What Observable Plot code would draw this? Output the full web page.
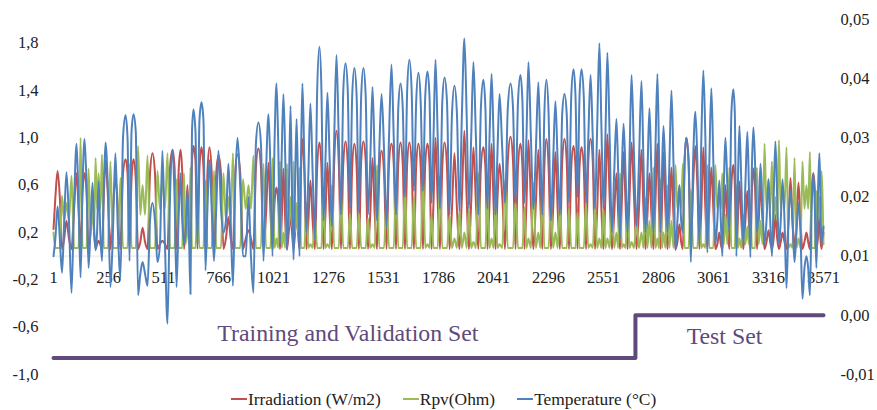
<!DOCTYPE html>
<html><head><meta charset="utf-8">
<script src="https://cdn.jsdelivr.net/npm/d3@7"></script>
<script src="https://cdn.jsdelivr.net/npm/@observablehq/plot@0.6"></script>
<style>
body{margin:0;background:#fff;font-family:"Liberation Serif",serif;color:#222}
#legend{height:30px;display:flex;align-items:center;padding:8px 0 0 231px;font-size:17.4px;box-sizing:border-box}
#legend i{display:inline-block;width:16px;height:2px;margin-right:1px}
#legend span{margin-right:22px;display:inline-flex;align-items:center}
</style></head><body>
<div id="chart"></div>
<div id="legend"></div>
<script>
const xTicks=[1,256,511,766,1021,1276,1531,1786,2041,2296,2551,2806,3061,3316,3571];
const leftTicks=[-1,-0.6,-0.2,0.2,0.6,1,1.4,1.8];
const rightTicks=[-0.01,0,0.01,0.02,0.03,0.04,0.05];
const daySample=[20,61,108,145,182,210,242,288,335,372,
414,460,506,553,590,622,650,687,724,766,
812,854,905,951,998,1035,1067,1100,1128,1155,
1192,1234,1271,1313,1355,1396,1438,1480,1522,1568,
1610,1651,1693,1735,1772,1814,1860,1906,1948,1994,
2032,2069,2120,2166,2203,2249,2286,2328,2370,2412,
2449,2491,2532,2569,2611,2644,2681,2727,2764,2801,
2829,2866,2903,2935,2977,3014,3051,3088,3116,3153,
3181,3218,3246,3279,3316,3348,3381,3418,3455,3492,
3524,3552];
const tempPeak=[.42,.71,.95,.99,.62,.63,.96,.87,1.19,1.2,
-.05,.45,.89,.89,.7,.55,1.24,1.3,.81,.89,
.78,1.0,.5,1.13,1.2,1.46,1.37,1.27,1.16,1.46,
1.29,1.77,1.38,1.7,1.63,1.59,1.59,1.43,1.37,1.62,
1.46,1.66,1.55,1.56,1.66,1.51,1.44,1.84,1.64,1.49,
1.54,1.37,1.46,1.53,1.64,1.47,1.49,1.31,1.37,1.58,
1.58,1.53,1.8,1.72,1.16,1.12,1.53,1.48,1.25,1.54,
1.1,1.4,.6,1.0,1.22,1.57,1.42,.64,1.0,1.41,
1.1,1.05,1.09,.78,.65,.97,.65,.55,.45,0,
.7,.87];
const tempKnee=[.15,.3,.45,.6,.25,.2,.55,.2,1.0,1.05,
-.15,.3,.1,.5,.3,.2,1.05,1.15,.4,.4,
.3,.6,0,.95,.7,.95,.85,.5,.6,.8,
.7,1.4,.8,1.0,1.4,1.35,1.35,.8,.9,1.0,
1.25,1.4,1.3,1.35,1.0,1.3,1.2,1.2,1.0,1.25,
1.0,.9,1.25,1.3,1.0,.9,1.2,.8,1.2,1.35,
1.35,1.0,1.1,1.0,.7,.7,.85,.8,.7,.9,
.7,.8,.3,.8,.8,1.0,.8,.3,.6,1.2,
.6,.6,.75,.4,.3,.5,.3,.3,.2,-.1,
.4,.5];
const tempLow=[-.14,-.31,-.18,-.1,.05,-.04,-.26,-.18,-.04,-.33,
-.25,-.05,-.57,-.26,.1,-.32,.1,-.12,-.04,.2,
-.25,0,-.31,-.04,0,.1,.05,-.03,0,.2,
.15,.3,.25,.35,.4,.38,.35,.3,.25,.35,
.5,.55,.55,.45,.4,.35,.38,.4,.35,.4,
.35,.45,.45,.45,.4,.35,.3,.35,.45,.5,
.45,.4,.4,.2,.15,.2,.25,.2,.2,.2,
.2,.05,.2,-.05,.1,.03,.1,0,.2,0,
.1,-.01,.2,.1,0,.1,-.27,-.05,-.36,-.33,
-.1,.1];
const irrPeak=[.72,.3,.7,.7,.45,.13,.81,.66,.82,.82,
.24,.87,.13,.9,.9,.6,.93,.92,.92,.85,
.33,.86,.22,.91,.79,.58,.74,.35,.4,.99,
.64,.96,.79,1.06,.97,.95,.97,.83,.89,.95,
.96,.96,.95,.95,1.0,.96,.87,1.06,.92,.92,
.95,.78,1.01,.95,.98,.9,.99,.88,.99,.93,
.92,.99,.9,1.03,.7,.88,.96,.9,.7,.95,
.88,.75,.27,1.0,.93,.92,.75,.2,.6,.77,
.63,.55,.74,.6,.22,.35,.2,.66,.62,.2,
.7,.35];
const irrKnee=[.5,.15,.4,.55,.2,.1,.5,.4,.7,.65,
.12,.7,.1,.75,.7,.25,.8,.75,.7,.7,
.15,.7,.15,.75,.35,.45,.3,.2,.2,.7,
.3,.75,.35,.8,.78,.75,.8,.35,.7,.78,
.78,.78,.76,.78,.45,.75,.4,.5,.45,.75,
.45,.5,.8,.75,.45,.45,.75,.4,.8,.75,
.75,.8,.4,.5,.35,.45,.5,.4,.35,.45,
.4,.35,.12,.8,.6,.4,.4,.1,.3,.6,
.3,.3,.55,.3,.12,.15,.12,.3,.3,.12,
.55,.15];
const irrNight=[0.06];
const rpvPeak=[.51,.68,1.0,.74,.83,.86,.8,.66,.78,.93,
.85,.72,.87,.65,.7,.75,.5,.64,.72,.7,
.87,.65,.85,.78,.83,.8,.78,.8,.75,.45,
.35,.58,.6,.55,.36,.36,.32,.77,.47,.61,
.58,.5,.7,.35,.68,.34,.38,.4,.7,.49,
.43,.64,.46,.41,.62,.6,.45,.43,.4,.37,
.44,.44,.4,.41,.7,.45,.3,.49,.75,.65,
.6,.77,.78,.56,.42,.77,.77,.7,.75,.6,
.35,.45,.75,.95,.8,.98,.92,.83,.8,.88,
.55,.72];
const rpvDay=[.07,.3,.07,.07,.2,.4,.07,.07,.07,.07,
.35,.07,.4,.07,.07,.1,.07,.07,.07,.07,
.3,.07,.4,.07,.07,.07,.07,.25,.2,.07,
.07,.07,.07,.07,.07,.07,.07,.07,.07,.07,
.07,.07,.07,.07,.07,.07,.07,.07,.07,.07,
.07,.07,.07,.07,.07,.07,.07,.07,.07,.07,
.07,.07,.07,.07,.07,.07,.07,.07,.07,.07,
.07,.07,.4,.07,.07,.07,.07,.4,.1,.07,
.07,.1,.07,.1,.4,.3,.4,.07,.07,.4,
.07,.3];
const rpvNoon=[.07,.45,.07,.07,.45,.7,.07,.07,.07,.07,
.6,.07,.65,.07,.07,.3,.07,.07,.07,.07,
.5,.07,.6,.07,.07,.15,.2,.5,.45,.07,
.1,.07,.1,.07,.07,.07,.07,.1,.07,.07,
.07,.07,.07,.1,.07,.07,.15,.2,.12,.07,
.15,.1,.07,.07,.15,.2,.07,.2,.07,.07,
.07,.1,.15,.15,.2,.1,.12,.2,.3,.15,
.2,.3,.6,.07,.07,.1,.07,.55,.35,.07,
.15,.25,.07,.3,.65,.5,.6,.1,.15,.6,
.07,.5];
const seriesStart={irr:.23,rpv:.2,temp:0};
const seriesEnd={irr:.2,rpv:.1,temp:.25};
const stepSample=[1,2699,2699,3571];
const stepRight=[-.0072,-.0072,0,0];
const setLabels=["Training and Validation Set","Test Set"];
const setLabelSample=[1366,3112];
const setLabelY=[-.656,-.68];
const names=["Irradiation (W/m2)","Rpv(Ohm)","Temperature (°C)"];
const colors=["#C0504D","#9BBB59","#4F81BD"];
const purple="#604A7B";

const toLeft=r=>(r+.01)/.06*3-1;
const fmtL=v=>v.toFixed(1).replace(".",",");
const fmtR=v=>Math.abs(v).toFixed(2).replace(".",",");
const fmtRight=v=>{const r=Math.round(((v+1)/3*.06-.01)*100)/100;return (r<0?"-":"")+fmtR(r);};
const next=i=>i<daySample.length-1?daySample[i+1]:3571;
const irr=[{x:1,y:seriesStart.irr}],rpv=[{x:1,y:seriesStart.rpv}],temp=[{x:1,y:seriesStart.temp}];
daySample.forEach((s,i)=>{
  const g=next(i)-s, prev=i?s-daySample[i-1]:g;
  irr.push({x:s-prev*.25,y:irrKnee[i]},{x:s,y:irrPeak[i]},{x:s+g*.25,y:irrKnee[i]},{x:s+g/2,y:irrNight[0]});
  rpv.push({x:s-prev*.25,y:rpvDay[i]},{x:s,y:rpvNoon[i]},{x:s+g*.25,y:rpvDay[i]},{x:s+g/2,y:rpvPeak[i]});
  temp.push({x:s-prev*.25,y:tempKnee[i]},{x:s,y:tempPeak[i]},{x:s+g*.25,y:tempKnee[i]},{x:s+g/2,y:tempLow[i]});
});
irr.push({x:3571,y:seriesEnd.irr});rpv.push({x:3571,y:seriesEnd.rpv});temp.push({x:3571,y:seriesEnd.temp});
const clean=a=>a.filter(d=>d.x>=1).sort((p,q)=>p.x-q.x);
const F='"Liberation Serif",serif';
const line=(d,c)=>Plot.line(clean(d),{x:"x",y:"y",stroke:c,strokeWidth:2,curve:"monotone-x"});
const plot=Plot.plot({
  width:877,height:380,marginTop:19,marginBottom:6,marginLeft:53,marginRight:54,
  style:{fontFamily:F,background:"#fff",overflow:"visible"},
  x:{domain:[1,3571],axis:null},
  y:{domain:[-1,2],axis:null},
  marks:[
    Plot.ruleY([0],{stroke:"#f0f0f0",strokeWidth:2}),
    Plot.text(xTicks,{x:d=>d,y:0,dy:22,text:d=>String(d),fontSize:16.5,fill:"#222"}),
    Plot.axisY({ticks:leftTicks,anchor:"left",tickSize:0,tickPadding:15,tickFormat:fmtL,fontSize:16.5,color:"#222",label:null}),
    Plot.axisY({ticks:rightTicks.map(toLeft),anchor:"right",tickSize:0,tickPadding:17,tickFormat:fmtRight,fontSize:16.5,color:"#222",label:null}),
    line(irr,colors[0]),line(rpv,colors[1]),line(temp,colors[2]),
    Plot.line(stepSample.map((x,i)=>({x,y:toLeft(stepRight[i])})),{x:"x",y:"y",stroke:purple,strokeWidth:4,strokeLinejoin:"round"}),
    Plot.text(setLabels,{x:(d,i)=>setLabelSample[i],y:(d,i)=>setLabelY[i],text:d=>d,fontSize:23.8,fill:purple})
  ]
});
document.getElementById("chart").append(plot);
plot.style.display="block";
const lg=document.getElementById("legend");
names.forEach((n,i)=>{const s=document.createElement("span");const b=document.createElement("i");b.style.background=colors[i];s.append(b,n);lg.append(s);});
</script></body></html>
